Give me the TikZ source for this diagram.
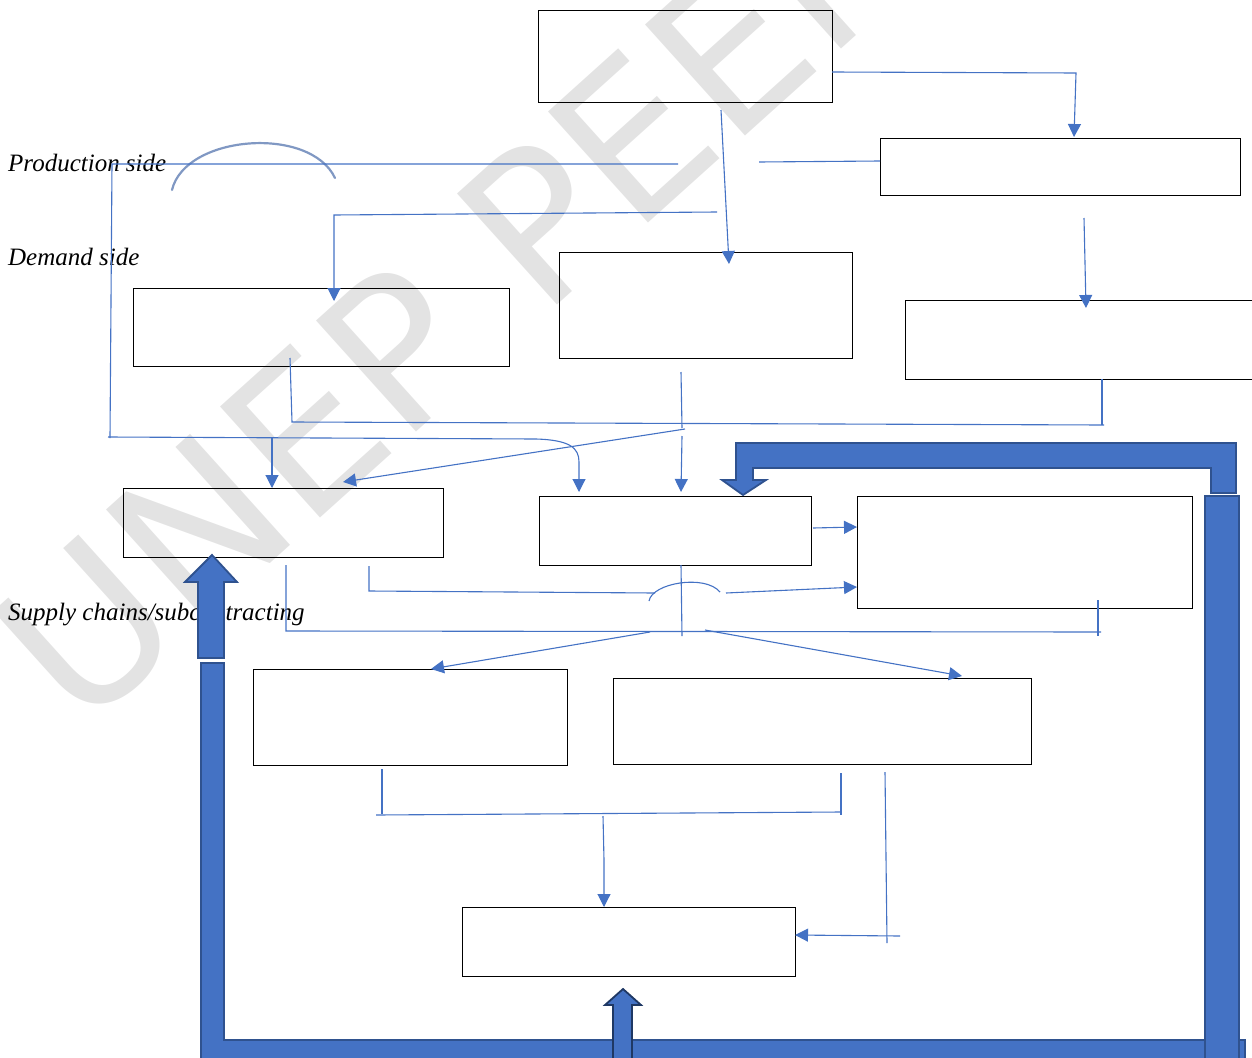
\documentclass[tikz,border=0pt]{standalone}
\usepackage{fontspec}
\setmainfont{Liberation Serif}
\newfontfamily\wmfont{DejaVu Sans}
\usetikzlibrary{arrows.meta}
\definecolor{ln}{HTML}{4472C4}
\definecolor{thk}{HTML}{4472C4}
\definecolor{thkb}{HTML}{2F528F}
\definecolor{thkd}{HTML}{1F3864}
\begin{document}
\begin{tikzpicture}[x=1pt,y=-1pt,
 box/.style={draw=black, line width=0.9pt, inner sep=0pt},
 conn/.style={draw=ln, line width=1.1pt},
 arr/.style={conn, -{Triangle[length=13pt,width=13pt]}},
 big/.style={fill=thk, draw=thkb, line width=1.8pt, line join=miter},
 lbl/.style={font=\itshape\fontsize{25}{27}\selectfont, anchor=base west, inner sep=0pt}]
\useasboundingbox (0,0) rectangle (1252,1057);
% watermark
\node[rotate=42, anchor=base west, inner sep=0pt, text=gray!22, font=\wmfont\fontsize{205}{205}\selectfont] (wm) at (80,735) {UNEP PEER};
% labels
\node[lbl] (lp) at (8,171) {Production side};
\node[lbl] (ld) at (8,265) {Demand side};
\node[lbl] (ls) at (8,620) {Supply chains/subcontracting};
% hand drawn arc
\draw[draw=ln!70!gray, line width=2.2pt, opacity=0.75, line cap=round] (172,190) .. controls (185,135) and (310,125) .. (335,178);
% boxes
\node[box, minimum width=294pt, minimum height=92pt] (b1) at (685,56) {};
\node[box, minimum width=360pt, minimum height=57pt] (b2) at (1060,166.5) {};
\node[box, minimum width=293pt, minimum height=106pt] (b3) at (705.5,305) {};
\node[box, minimum width=376pt, minimum height=78pt] (b4) at (321,327) {};
\node[box, minimum width=357pt, minimum height=79pt] (b5) at (1083.5,339.5) {};
\node[box, minimum width=320pt, minimum height=69pt] (b6) at (283,522.5) {};
\node[box, minimum width=272pt, minimum height=69pt] (b7) at (675,530.5) {};
\node[box, minimum width=335pt, minimum height=112pt] (b8) at (1024.5,552) {};
\node[box, minimum width=314pt, minimum height=96pt] (b9) at (410,717) {};
\node[box, minimum width=418pt, minimum height=86pt] (b10) at (822,721) {};
\node[box, minimum width=333pt, minimum height=69pt] (b11) at (628.5,941.5) {};
% coordinates for connectors
\coordinate (a1) at (832,72); \coordinate (a2) at (1076,73); \coordinate (a3) at (1074,137);
\coordinate (pr1) at (678,164); \coordinate (pr2) at (112,164); \coordinate (pr3) at (110,438);
\coordinate (pr4) at (108,437); \coordinate (pr5) at (536,439); \coordinate (pr6) at (579,462); \coordinate (pr7) at (579,492);
\coordinate (pr8) at (272,438); \coordinate (pr9) at (272,488);
\coordinate (q1) at (759,162); \coordinate (q2) at (880,161);
\coordinate (d1) at (717,212); \coordinate (d2) at (334,215); \coordinate (d3) at (334,301);
\coordinate (e1) at (721,110); \coordinate (e2) at (729,264);
\coordinate (f1) at (1084,218); \coordinate (f2) at (1086,308);
\coordinate (g1) at (290,358); \coordinate (g2) at (292,422); \coordinate (g3) at (1104,425); \coordinate (g4) at (1102,379); \coordinate (g5) at (1102,425);
\coordinate (h1) at (681,372); \coordinate (h2) at (682,428); \coordinate (h3) at (685,429); \coordinate (h4) at (343,482);
\coordinate (h5) at (682,436); \coordinate (h6) at (681,492);
\coordinate (i1) at (813,528); \coordinate (i2) at (857,527);
\coordinate (j1) at (369,566); \coordinate (j2) at (369,591); \coordinate (j3) at (655,593);
\coordinate (j4) at (649,601); \coordinate (j5) at (720,592); \coordinate (j6) at (726,593); \coordinate (j7) at (857,587);
\coordinate (k1) at (681,565); \coordinate (k2) at (682,636);
\coordinate (m1) at (286,565); \coordinate (m2) at (286,631); \coordinate (m3) at (1101,632); \coordinate (m4) at (1098,600); \coordinate (m5) at (1098,636);
\coordinate (n1) at (650,632); \coordinate (n2) at (431,669); \coordinate (n3) at (705,630); \coordinate (n4) at (962,676);
\coordinate (o1) at (382,769); \coordinate (o2) at (382,814); \coordinate (o3) at (376,815); \coordinate (o4) at (841,812); \coordinate (o5) at (841,773); \coordinate (o6) at (841,815);
\coordinate (r1) at (603,816); \coordinate (r2) at (604,860); \coordinate (r3) at (604,907);
\coordinate (s1) at (885,772); \coordinate (s2) at (887,943); \coordinate (s3) at (900,936); \coordinate (s4) at (795,935);
% connectors
\draw[arr] (a1) -- (a2) -- (a3);
\draw[conn] (pr1) -- (pr2) -- (pr3);
\draw[arr] (pr4) -- (pr5) .. controls (570,440) and (579,448) .. (pr6) -- (pr7);
\draw[arr] (pr8) -- (pr9);
\draw[conn] (q1) -- (q2);
\draw[arr] (d1) -- (d2) -- (d3);
\draw[arr] (e1) -- (e2);
\draw[arr] (f1) -- (f2);
\draw[conn] (g1) -- (g2) -- (g3);
\draw[conn] (g4) -- (g5);
\draw[conn] (h1) -- (h2);
\draw[arr] (h3) -- (h4);
\draw[arr] (h5) -- (h6);
\draw[arr] (i1) -- (i2);
\draw[conn] (j1) -- (j2) -- (j3);
\draw[conn] (j4) .. controls (652,583) and (705,574) .. (j5);
\draw[arr] (j6) -- (j7);
\draw[conn] (k1) -- (k2);
\draw[conn] (m1) -- (m2) -- (m3);
\draw[conn] (m4) -- (m5);
\draw[arr] (n1) -- (n2);
\draw[arr] (n3) -- (n4);
\draw[conn] (o1) -- (o2);
\draw[conn] (o3) -- (o4);
\draw[conn] (o5) -- (o6);
\draw[arr] (r1) -- (r2) -- (r3);
\draw[conn] (s1) -- (s2);
\draw[arr] (s3) -- (s4);
% thick loop
\draw[big] (201,663) -- (224,663) -- (224,1040) -- (1245,1040) -- (1245,1070) -- (201,1070) -- cycle;
\draw[big] (1205,496) rectangle (1239,1070);
\draw[big] (1211,493) -- (1211,468) -- (753,468) -- (753,480) -- (766,480) -- (743,495) -- (722,480) -- (736,480) -- (736,443) -- (1236,443) -- (1236,493) -- cycle;
\draw[big] (198,658) -- (198,582) -- (185,582) -- (212,555) -- (237,582) -- (224,582) -- (224,658) -- cycle;
\draw[big, draw=thkd] (613,1070) -- (613,1005) -- (605,1005) -- (623,989) -- (641,1005) -- (632,1005) -- (632,1070) -- cycle;
\end{tikzpicture}
\end{document}
